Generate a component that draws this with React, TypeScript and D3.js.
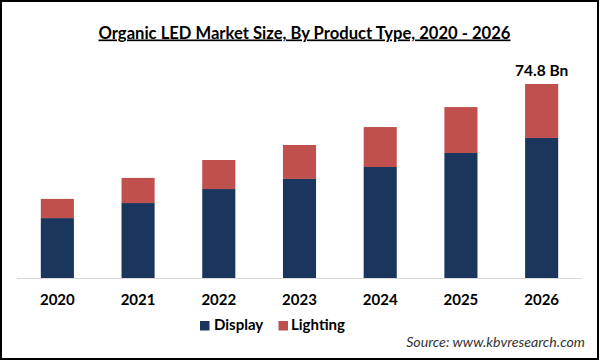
import React from "react";
import * as d3 from "d3";

const years = ["2020", "2021", "2022", "2023", "2024", "2025", "2026"];
const display = [23.1, 28.9, 34.3, 38.2, 42.8, 48.2, 54.0];
const lighting = [7.4, 9.7, 11.2, 13.1, 15.4, 17.7, 20.8];
const seriesNames = ["Display", "Lighting"];
const colors = ["#1b365d", "#c0504d"];
const topLabel = "74.8 Bn";

const W = 600;
const H = 361;
const FONT = "Lato, 'Open Sans', sans-serif";

export default function App() {
  const x = d3.scaleBand<string>().domain(years).range([17, 582]).paddingInner(0.59).paddingOuter(0.295);
  const y = d3.scaleLinear().domain([0, 74.8]).range([278, 84]);
  const rows = years.map((yr, i) => ({ year: yr, Display: display[i], Lighting: lighting[i] }));
  const stack = d3.stack<any>().keys(seriesNames)(rows);
  const last = years[years.length - 1];

  return (
    <svg width={W} height={H} style={{ position: "absolute", left: 0, top: 0, display: "block", background: "#fff" }}>
      <rect x={1} y={1} width={597} height={358} fill="#fff" stroke="#000" strokeWidth={2} />
      <text x={304.5} y={38.5} textAnchor="middle" fontFamily={FONT} fontWeight="bold" fontSize={16.6} fill="#000" textDecoration="underline">
        Organic LED Market Size, By Product Type, 2020 - 2026
      </text>
      {stack.map((s, si) => (
        <g key={si} fill={colors[si]}>
          {s.map((d, i) => (
            <rect key={i} x={x(years[i])} y={y(d[1])} width={x.bandwidth()} height={y(d[0]) - y(d[1])} />
          ))}
        </g>
      ))}
      <line x1={17} x2={582} y1={278.5} y2={278.5} stroke="#d9d9d9" strokeWidth={1} />
      {years.map((yr) => (
        <text key={yr} x={(x(yr) as number) + x.bandwidth() / 2} y={305} textAnchor="middle" fontFamily={FONT} fontWeight="bold" fontSize={15} fill="#000">
          {yr}
        </text>
      ))}
      <text x={(x(last) as number) + x.bandwidth() / 2} y={76} textAnchor="middle" fontFamily={FONT} fontWeight="bold" fontSize={15.5} fill="#000">
        {topLabel}
      </text>
      <rect x={200} y={321} width={9.5} height={9.5} fill={colors[0]} />
      <text x={214} y={330} fontFamily={FONT} fontWeight="bold" fontSize={15} fill="#000">{seriesNames[0]}</text>
      <rect x={278.5} y={321} width={9.5} height={9.5} fill={colors[1]} />
      <text x={291} y={330} fontFamily={FONT} fontWeight="bold" fontSize={15} fill="#000">{seriesNames[1]}</text>
      <text x={585} y={347} textAnchor="end" fontFamily={FONT} fontStyle="italic" fontSize={14.2} fill="#333">
        Source: www.kbvresearch.com
      </text>
    </svg>
  );
}
